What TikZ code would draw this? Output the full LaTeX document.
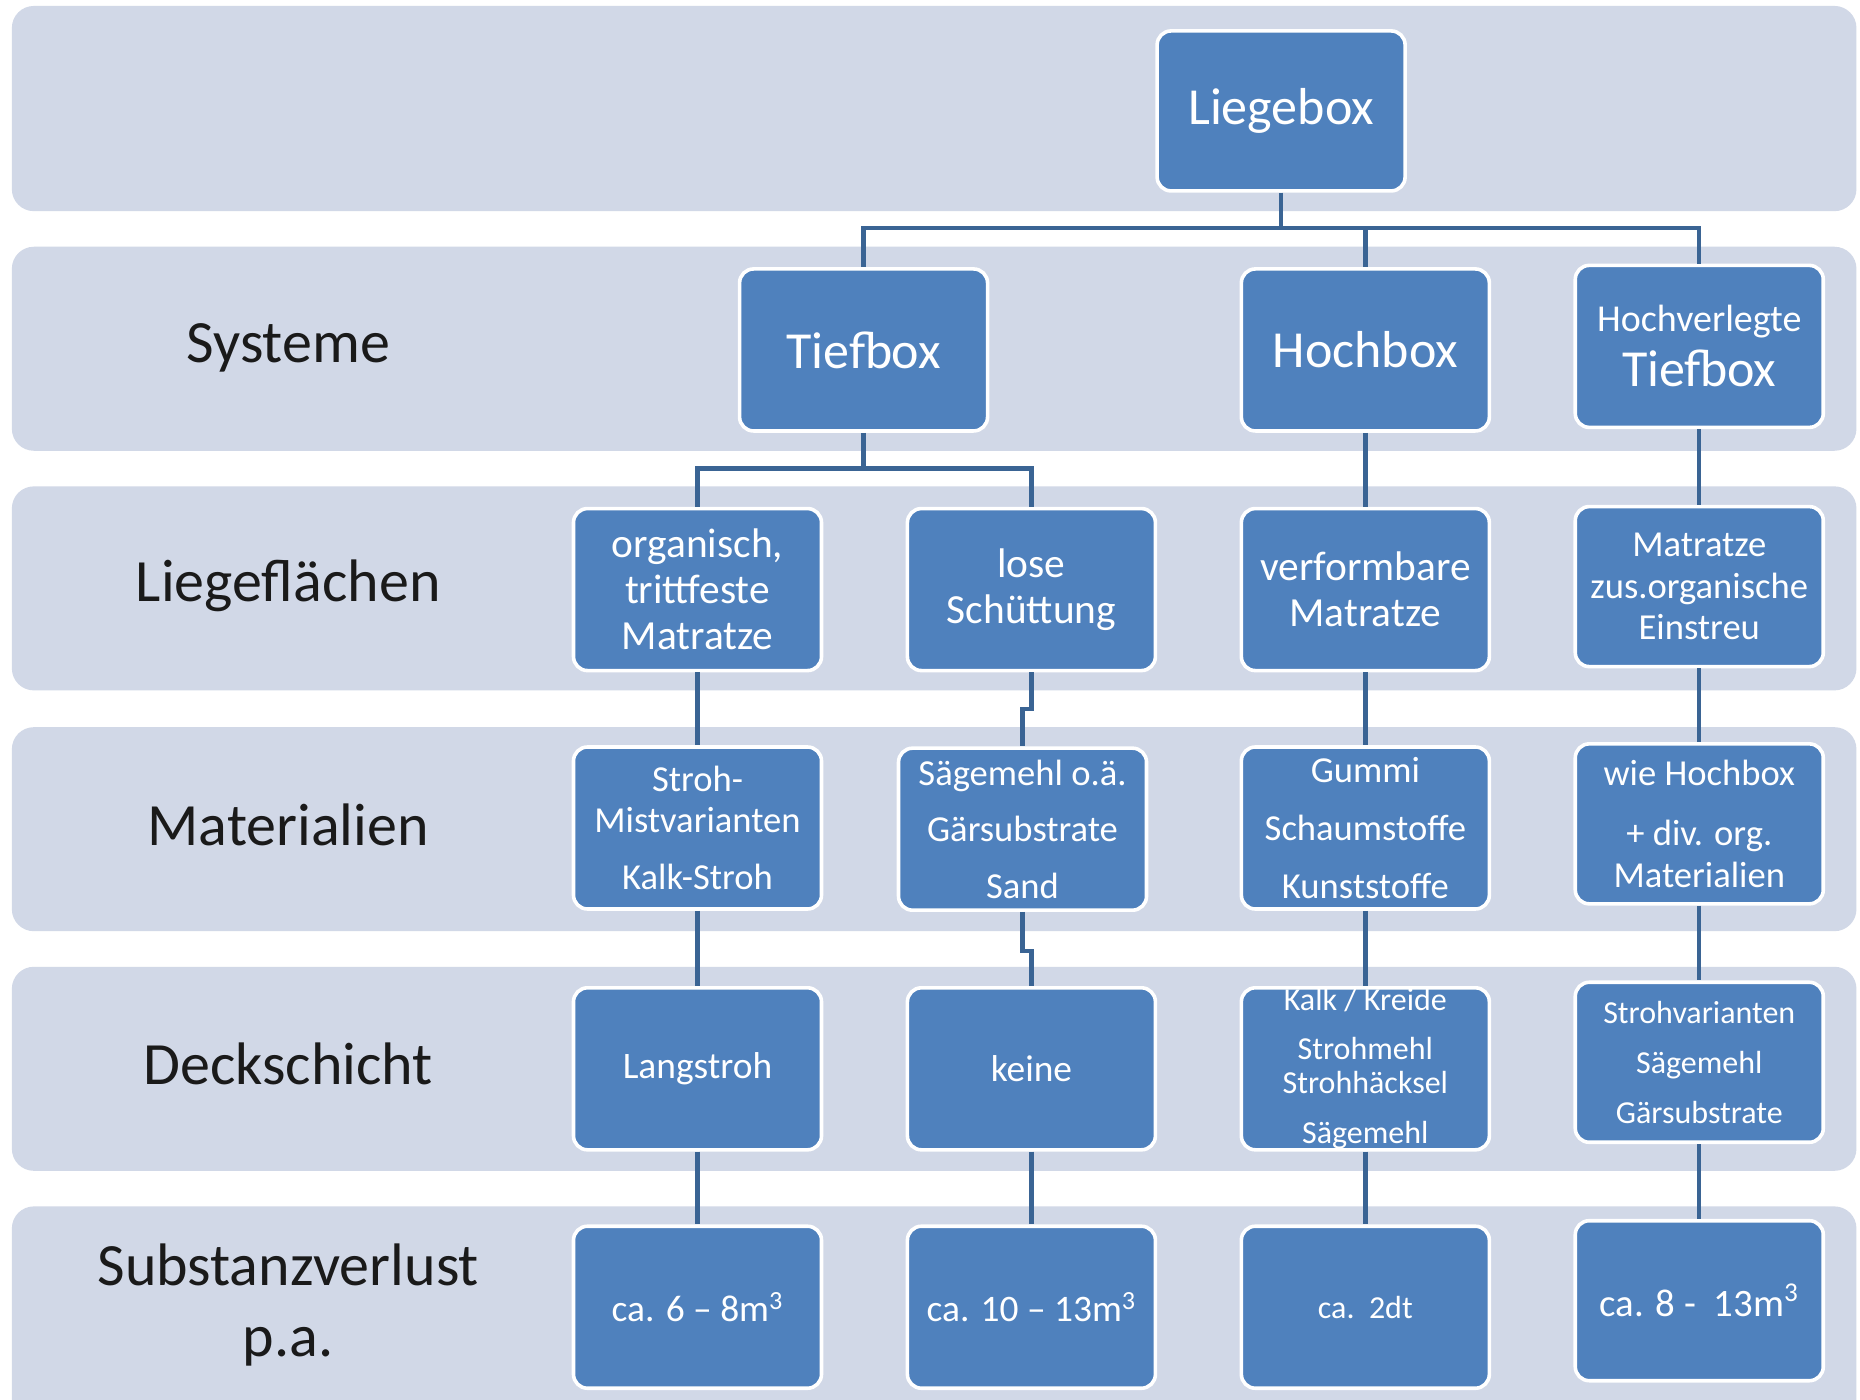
\documentclass[tikz,border=0pt]{standalone}
\usepackage{fontspec}
\setmainfont{Carlito}
\definecolor{bandcol}{HTML}{D1D8E7}
\definecolor{boxblue}{HTML}{4F81BD}
\definecolor{conncol}{HTML}{3A6494}
\definecolor{lblcol}{HTML}{1A1A1A}
\begin{document}
\begin{tikzpicture}[x=0.5931pt,y=-0.5931pt,
  box/.style={rectangle, rounded corners=7pt, fill=boxblue, draw=white, line width=1.8pt,
    text=white, minimum width=124pt, minimum height=81pt, inner sep=0pt, align=center},
  lbl/.style={text=lblcol, align=center, font=\fontsize{30}{35.6}\selectfont},
  conn/.style={draw=conncol, line width=2.2pt},
  fA/.style={font=\fontsize{26}{30}\selectfont},
  fB/.style={font=\fontsize{20.7}{23}\selectfont},
  fC/.style={font=\fontsize{18.3}{20.8}\selectfont},
  fD/.style={font=\fontsize{16}{17}\selectfont},
  fE/.style={font=\fontsize{18.7}{22}\selectfont}]
\useasboundingbox (0,0) rectangle (1568,1180);
\clip (0,0) rectangle (1568,1180);
\fill[white] (0,0) rectangle (1568,1180);
% bands
\foreach \t/\b in {5/178, 208/380, 410/582, 613/785, 815/987, 1017/1215}
  \fill[bandcol, rounded corners=11pt] (10,\t) rectangle (1565,\b);

% left labels
\node[lbl] (lsys) at (243,293) {Systeme};
\node[lbl] (llie) at (243,494) {Liegeflächen};
\node[lbl] (lmat) at (243,695) {Materialien};
\node[lbl] (ldec) at (243,897) {Deckschicht};
\node[lbl] (lsub) at (243,1100) {Substanzverlust\\p.a.};

% boxes
\node[box, fA, minimum height=80pt] (liege) at (1080,93.5) {Liegebox};
\node[box, fA] (tief) at (728,295) {Tiefbox};
\node[box, fA] (hoch) at (1151,295) {Hochbox};
\node[box] (hvt) at (1432.5,292) {{\fontsize{19}{22}\selectfont Hochverlegte}\\[5pt]{\fontsize{26}{26}\selectfont Tiefbox}};

\node[box, fB] (org) at (588,497) {organisch,\\trittfeste\\Matratze};
\node[box, fB] (lose) at (869.5,497) {lose\\Schüttung};
\node[box, fB] (verf) at (1151,497) {verformbare\\Matratze};
\node[box, fC, minimum height=80pt] (mzus) at (1432.5,494.5) {Matratze\\zus.organische\\Einstreu};

\node[box, fC] (stroh) at (588,698) {Stroh-\\Mistvarianten\\[7.7pt]Kalk-Stroh};
\node[box, fC] (saeg) at (862,699) {Sägemehl o.ä.\\[7.5pt]Gärsubstrate\\[7.5pt]Sand};
\node[box, fC] (gummi) at (1151,698) {Gummi\\[8pt]Schaumstoffe\\[8pt]Kunststoffe};
\node[box, fC, minimum height=80pt] (wie) at (1432.5,694.5) {wie Hochbox\\[9pt]+ div. org.\\Materialien};

\node[box, fE] (lang) at (588,901) {Langstroh};
\node[box, fE] (keine) at (869.5,901) {keine};
\node[box, fD] (kalk) at (1151,901) {Kalk / Kreide\\[7.5pt]Strohmehl\\Strohhäcksel\\[8pt]Sägemehl};
\node[box, fD, minimum height=80pt] (strv) at (1432.5,895.5) {Strohvarianten\\[8pt]Sägemehl\\[8pt]Gärsubstrate};

\node[box, fE] (v1) at (588,1102) {ca. 6 – 8m\textsuperscript{3}};
\node[box, fE] (v2) at (869.5,1102) {ca. 10 – 13m\textsuperscript{3}};
\node[box, fD] (v3) at (1151,1102) {ca.\ \ 2dt};
\node[box, font=\fontsize{19.4}{22}\selectfont, minimum height=80pt] (v4) at (1432.5,1096.5) {ca. 8 -\ \ 13m\textsuperscript{3}};

% connectors
\coordinate (b1) at (1080,192);
\coordinate (b2) at (728,395);
\draw[conn] (liege.south) -- (b1) -| (tief.north);
\draw[conn] (b1) -| (hoch.north);
\draw[conn] (b1) -| (hvt.north);
\draw[conn] (tief.south) -- (b2) -| (org.north);
\draw[conn] (b2) -| (lose.north);
\draw[conn] (hoch.south) -- (verf.north);
\draw[conn] (hvt.south) -- (mzus.north);

\draw[conn] (org.south) -- (stroh.north);
\draw[conn] (lose.south) -- ++(0,31) -| (saeg.north);
\draw[conn] (verf.south) -- (gummi.north);
\draw[conn] (mzus.south) -- (wie.north);

\draw[conn] (stroh.south) -- (lang.north);
\draw[conn] (saeg.south) -- ++(0,33) -| (keine.north);
\draw[conn] (gummi.south) -- (kalk.north);
\draw[conn] (wie.south) -- (strv.north);

\draw[conn] (lang.south) -- (v1.north);
\draw[conn] (keine.south) -- (v2.north);
\draw[conn] (kalk.south) -- (v3.north);
\draw[conn] (strv.south) -- (v4.north);
\end{tikzpicture}
\end{document}
